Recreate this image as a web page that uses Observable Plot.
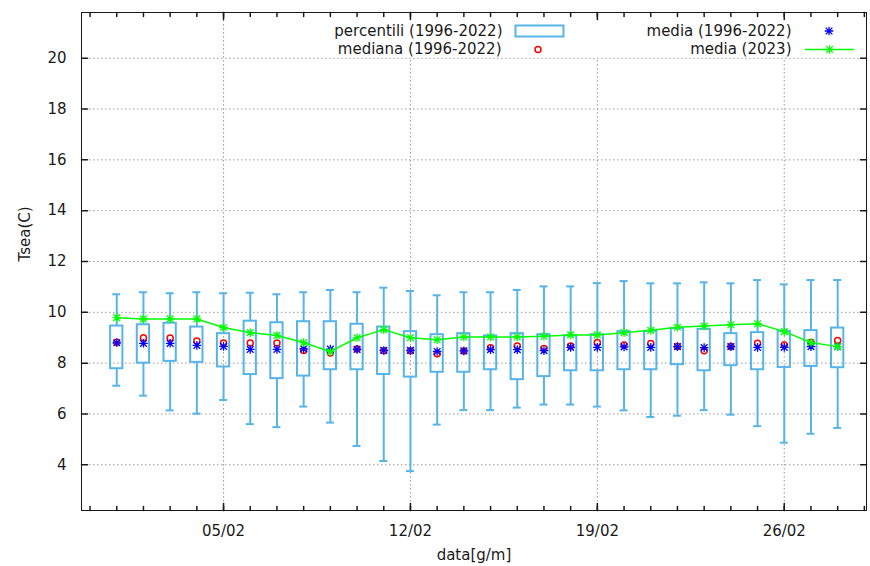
<!DOCTYPE html>
<html><head><meta charset="utf-8">
<script src="https://cdn.jsdelivr.net/npm/d3@7"></script>
<script src="https://cdn.jsdelivr.net/npm/@observablehq/plot@0.6"></script>
<style>
body{margin:0;background:#fff;}
#chart svg{display:block;}
</style></head><body><div id="chart"></div>
<script>
// ---- data ----
const days     = [1,2,3,4,5,6,7,8,9,10,11,12,13,14,15,16,17,18,19,20,21,22,23,24,25,26,27,28];
const pLow     = [7.11,6.72,6.14,6.01,6.55,5.60,5.48,6.29,5.66,4.74,4.15,3.75,5.58,6.15,6.15,6.25,6.37,6.37,6.29,6.14,5.88,5.93,6.15,5.97,5.52,4.87,5.22,5.45];
const q1       = [7.78,8.00,8.07,8.03,7.85,7.55,7.39,7.49,7.74,7.74,7.55,7.45,7.64,7.64,7.74,7.35,7.47,7.70,7.70,7.74,7.74,7.94,7.70,7.90,7.74,7.83,7.87,7.82];
const q3       = [9.46,9.51,9.57,9.42,9.16,9.65,9.59,9.63,9.63,9.53,9.42,9.24,9.12,9.16,9.07,9.16,9.12,9.07,9.12,9.24,9.25,9.36,9.33,9.16,9.20,9.25,9.28,9.38];
const pHigh    = [10.71,10.79,10.75,10.79,10.75,10.77,10.71,10.79,10.88,10.79,10.97,10.84,10.67,10.79,10.79,10.88,11.02,11.02,11.15,11.23,11.14,11.14,11.18,11.14,11.27,11.10,11.27,11.27];
const median   = [8.82,9.00,8.99,8.87,8.79,8.79,8.79,8.50,8.40,8.56,8.49,8.49,8.37,8.48,8.61,8.67,8.58,8.67,8.81,8.71,8.77,8.65,8.49,8.65,8.78,8.71,8.81,8.89];
const mean     = [8.80,8.78,8.78,8.70,8.66,8.54,8.54,8.56,8.55,8.54,8.50,8.50,8.46,8.48,8.53,8.53,8.49,8.62,8.62,8.64,8.62,8.65,8.61,8.65,8.62,8.62,8.65,8.65];
const mean2023 = [9.79,9.74,9.74,9.74,9.40,9.20,9.09,8.81,8.45,9.00,9.32,9.00,8.92,9.03,9.03,9.03,9.06,9.11,9.11,9.20,9.29,9.41,9.46,9.51,9.55,9.24,8.81,8.65];
const xTickDays   = [5,12,19,26];
const xTickLabels = ["05/02","12/02","19/02","26/02"];
const minorDays   = [0,1,2,3,4,5,6,7,8,9,10,11,12,13,14,15,16,17,18,19,20,21,22,23,24,25,26,27,28,29];
const yTicks      = [4,6,8,10,12,14,16,18,20];
const legendLabels = ["percentili (1996-2022)","mediana (1996-2022)","media (1996-2022)","media (2023)"];

// ---- build table ----
const rows = days.map((d,i)=>({day:d, lo:pLow[i], q1:q1[i], q3:q3[i], hi:pHigh[i], med:median[i], mean:mean[i], m23:mean2023[i]}));

const BOX = "#56b4e9", RED = "#ff0000", BLUE = "#0000ff", GREEN = "#00ff00";
const mL = 81, mR = 4, mT = 12, mB = 56;
const halfBox = 0.23, halfCap = 0.15;

const asterisk = {draw(ctx, size){
  const r = Math.sqrt(size/Math.PI), s = r*0.78;
  ctx.moveTo(-r,0); ctx.lineTo(r,0);
  ctx.moveTo(0,-r); ctx.lineTo(0,r);
  ctx.moveTo(-s,-s); ctx.lineTo(s,s);
  ctx.moveTo(-s,s); ctx.lineTo(s,-s);
}};
const tick = {draw(ctx, l){ ctx.moveTo(0,0); ctx.lineTo(0,-l); }};
const gridStyle = {stroke:"#999", strokeOpacity:1, strokeWidth:1, strokeDasharray:"1.5,2.5"};

const chart = Plot.plot({
  width: 870, height: 566,
  marginLeft: mL, marginRight: mR, marginTop: mT, marginBottom: mB,
  style: {fontFamily: "DejaVu Sans", fontSize: "15px", color: "#1a1a1a", background: "#fff"},
  x: {type: "linear", domain: [-0.32, 29.08], axis: null},
  y: {domain: [2.2, 21.8], axis: null},
  marks: [
    Plot.gridY(yTicks, gridStyle),
    Plot.gridX(xTickDays, gridStyle),
    // opaque key background
    Plot.frame({fill:"white", stroke:null, insetLeft: 241, insetTop: 1, insetRight: 1, insetBottom: 453}),
    // whiskers
    Plot.ruleX(rows, {x:"day", y1:"lo", y2:"q1", stroke: BOX, strokeWidth: 2}),
    Plot.ruleX(rows, {x:"day", y1:"q3", y2:"hi", stroke: BOX, strokeWidth: 2}),
    Plot.ruleY(rows, {y:"lo", x1: d=>d.day-halfCap, x2: d=>d.day+halfCap, stroke: BOX, strokeWidth: 2}),
    Plot.ruleY(rows, {y:"hi", x1: d=>d.day-halfCap, x2: d=>d.day+halfCap, stroke: BOX, strokeWidth: 2}),
    // boxes
    Plot.rect(rows, {x1: d=>d.day-halfBox, x2: d=>d.day+halfBox, y1:"q1", y2:"q3", fill:"white", fillOpacity:0, stroke: BOX, strokeWidth: 2}),
    // median
    Plot.dot(rows, {x:"day", y:"med", r:3, stroke: RED, strokeWidth:1.5, fill:"none"}),
    // mean 1996-2022
    Plot.dot(rows, {x:"day", y:"mean", r:4.3, symbol: asterisk, stroke: BLUE, strokeWidth:1.3}),
    // mean 2023
    Plot.line(rows, {x:"day", y:"m23", stroke: GREEN, strokeWidth:1.5}),
    Plot.dot(rows, {x:"day", y:"m23", r:4.3, symbol: asterisk, stroke: GREEN, strokeWidth:1.3}),
    // legend
    Plot.text([legendLabels[0]], {frameAnchor:"top-left", dx: 421, dy: 18.5, textAnchor:"end", lineAnchor:"middle"}),
    Plot.text([legendLabels[1]], {frameAnchor:"top-left", dx: 420, dy: 37, textAnchor:"end", lineAnchor:"middle"}),
    Plot.text([legendLabels[2]], {frameAnchor:"top-left", dx: 710, dy: 18.5, textAnchor:"end", lineAnchor:"middle"}),
    Plot.text([legendLabels[3]], {frameAnchor:"top-left", dx: 710, dy: 37, textAnchor:"end", lineAnchor:"middle"}),
    Plot.frame({stroke: BOX, strokeWidth: 2, insetLeft: 434, insetRight: 303, insetTop: 13, insetBottom: 474}),
    Plot.dot([0], {frameAnchor:"top-left", dx: 456.5, dy: 37, r:3, stroke: RED, strokeWidth:1.5, fill:"none"}),
    Plot.dot([0], {frameAnchor:"top-left", dx: 747.5, dy: 18.5, r:4.3, symbol: asterisk, stroke: BLUE, strokeWidth:1.3}),
    Plot.vector([0], {frameAnchor:"top-left", dx: 748, dy: 37, length: 48, rotate: 90, anchor:"middle", shape: tick, stroke: GREEN, strokeWidth:1.5}),
    Plot.dot([0], {frameAnchor:"top-left", dx: 748, dy: 37, r:4.3, symbol: asterisk, stroke: GREEN, strokeWidth:1.3}),
    // frame + inward ticks
    Plot.frame({stroke: "#1a1a1a", strokeWidth: 1}),
    Plot.vector(yTicks, {y: d=>d, frameAnchor:"left", length: 6, rotate: 90, anchor:"start", shape: tick, stroke:"#1a1a1a"}),
    Plot.vector(yTicks, {y: d=>d, frameAnchor:"right", length: 6, rotate: -90, anchor:"start", shape: tick, stroke:"#1a1a1a"}),
    Plot.vector(minorDays, {x: d=>d, frameAnchor:"bottom", length: 4, rotate: 0, anchor:"start", shape: tick, stroke:"#1a1a1a"}),
    Plot.vector(xTickDays, {x: d=>d, frameAnchor:"bottom", length: 7, rotate: 0, anchor:"start", shape: tick, stroke:"#1a1a1a"}),
    Plot.vector(minorDays, {x: d=>d, frameAnchor:"top", length: 4, rotate: 180, anchor:"start", shape: tick, stroke:"#1a1a1a"}),
    Plot.vector(xTickDays, {x: d=>d, frameAnchor:"top", length: 7, rotate: 180, anchor:"start", shape: tick, stroke:"#1a1a1a"}),
    // axis labels
    Plot.axisY({ticks: yTicks, tickSize: 0, tickPadding: 15, label: null}),
    Plot.axisX({ticks: xTickDays, tickSize: 0, tickPadding: 15, label: null, tickFormat: d => xTickLabels[xTickDays.indexOf(d)]}),
    Plot.text(["data[g/m]"], {frameAnchor:"bottom", dy: 45, lineAnchor:"middle"}),
    Plot.text(["Tsea(C)"], {frameAnchor:"left", dx: -56, rotate: -90, lineAnchor:"middle"})
  ]
});
document.getElementById("chart").appendChild(chart);
</script></body></html>
